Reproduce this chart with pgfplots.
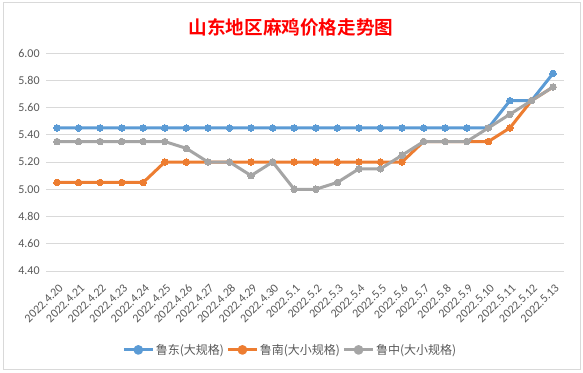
\documentclass[border=0pt]{standalone}
\usepackage{pgfplots}
\pgfplotsset{compat=1.18}
\usepackage{pgfplotstable}
\usepackage{fontspec}
\setmainfont{Carlito}
\newfontfamily\cjk{Noto Sans CJK SC}[BoldFont={Noto Sans CJK SC Bold}]
\definecolor{cblue}{HTML}{5B9BD5}
\definecolor{corange}{HTML}{ED7D31}
\definecolor{cgray}{HTML}{A5A5A5}
\definecolor{gridc}{HTML}{D9D9D9}
\definecolor{txt}{HTML}{595959}
\pgfplotstableread{
idx blue orange gray
0 5.45 5.05 5.35
1 5.45 5.05 5.35
2 5.45 5.05 5.35
3 5.45 5.05 5.35
4 5.45 5.05 5.35
5 5.45 5.20 5.35
6 5.45 5.20 5.30
7 5.45 5.20 5.20
8 5.45 5.20 5.20
9 5.45 5.20 5.10
10 5.45 5.20 5.20
11 5.45 5.20 5.00
12 5.45 5.20 5.00
13 5.45 5.20 5.05
14 5.45 5.20 5.15
15 5.45 5.20 5.15
16 5.45 5.20 5.25
17 5.45 5.35 5.35
18 5.45 5.35 5.35
19 5.45 5.35 5.35
20 5.45 5.35 5.45
21 5.65 5.45 5.55
22 5.65 5.65 5.65
23 5.85 5.75 5.75
}\datatable
\begin{document}
\begin{tikzpicture}[x=1pt,y=1pt]
\path[use as bounding box, fill=white] (0pt,0pt) rectangle (583pt,372pt);
\draw[gridc, line width=0.8pt] (3pt,2.5pt) rectangle (580pt,369.5pt);
\node[text=red, font={\cjk\bfseries\fontsize{18.6}{20}\selectfont}] at (291pt,345pt) {山东地区麻鸡价格走势图};
\begin{axis}[
  at={(46.2pt,101pt)}, anchor=south west,
  scale only axis, width=517.6pt, height=218pt,
  xmin=-0.5, xmax=23.5, ymin=4.4, ymax=6.0,
  ytick={4.4,4.6,...,6.01},
  xtick={0,...,23},
  xticklabels={2022.4.20,2022.4.21,2022.4.22,2022.4.23,2022.4.24,2022.4.25,2022.4.26,2022.4.27,2022.4.28,2022.4.29,2022.4.30,2022.5.1,2022.5.2,2022.5.3,2022.5.4,2022.5.5,2022.5.6,2022.5.7,2022.5.8,2022.5.9,2022.5.10,2022.5.11,2022.5.12,2022.5.13},
  axis line style={draw=none},
  major tick length=0pt,
  ymajorgrids, grid style={gridc, line width=0.8pt},
  /pgf/number format/fixed, /pgf/number format/fixed zerofill, /pgf/number format/precision=2, /pgf/number format/assume math mode=true,
  yticklabel style={text=txt, font=\fontsize{12}{12}\selectfont, xshift=-3pt},
  xticklabel style={text=txt, font=\fontsize{12}{12}\selectfont, xshift=4pt, yshift=-15pt, rotate=45, anchor=east, inner sep=0pt},
  clip=false,
  legend columns=-1,
  legend style={at={(0.471,-0.362)}, anchor=center, draw=none, fill=none,
    font={\cjk\fontsize{12}{12}\selectfont}, text=txt,
    /tikz/every even column/.append style={column sep=1pt},
    /tikz/every odd column/.append style={column sep=0pt},
    nodes={inner sep=1.5pt}},
  legend image code/.code={\draw[#1, mark=none] (0pt,0pt) -- (29pt,0pt); \fill[#1] (14.5pt,0pt) circle[radius=3.3pt];},
  every axis plot/.append style={line width=3pt, mark=*, mark size=3.3pt, line join=round},
]
\addplot[cblue, mark options={fill=cblue, draw=cblue, line width=0pt}] table[x=idx, y=blue] {\datatable};
\addlegendentry{鲁东(大规格)}
\addplot[corange, mark options={fill=corange, draw=corange, line width=0pt}] table[x=idx, y=orange] {\datatable};
\addlegendentry{鲁南(大小规格)}
\addplot[cgray, mark options={fill=cgray, draw=cgray, line width=0pt}] table[x=idx, y=gray] {\datatable};
\addlegendentry{鲁中(大小规格)}
\end{axis}
\end{tikzpicture}
\end{document}
